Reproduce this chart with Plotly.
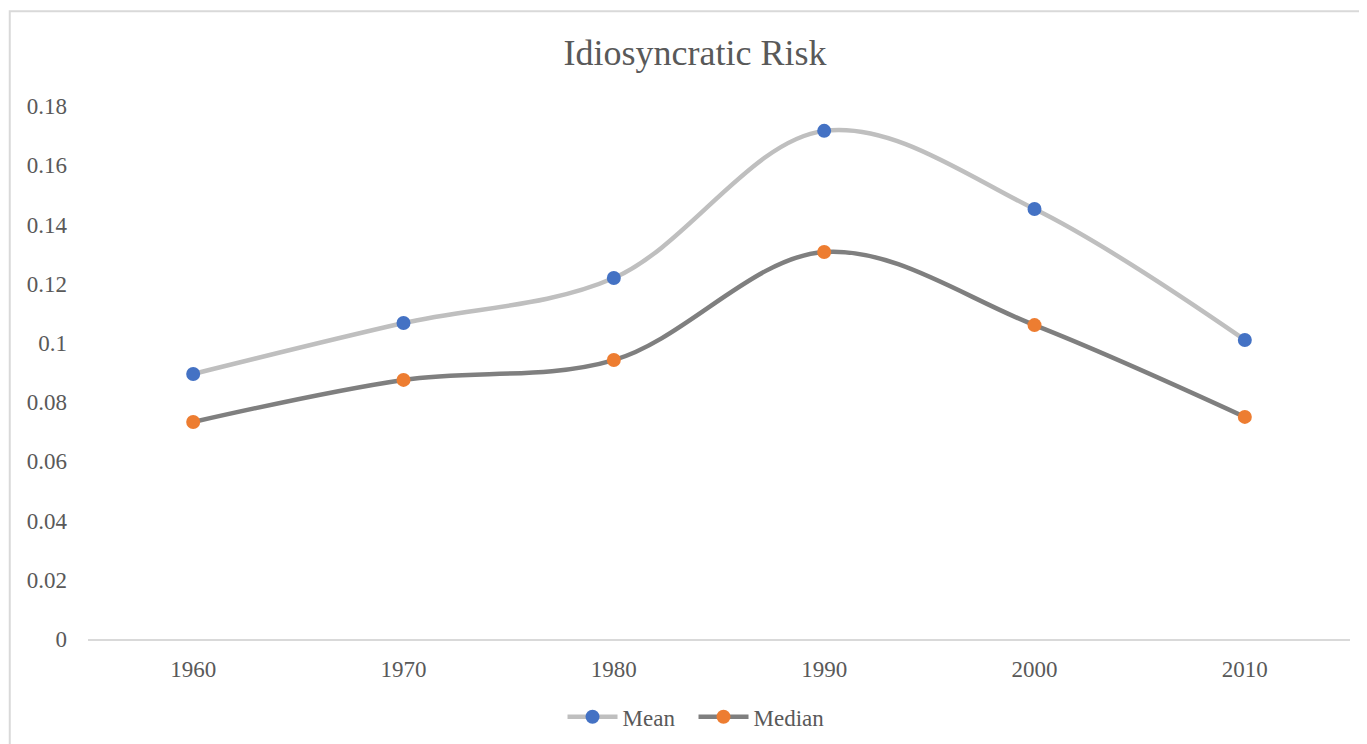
import plotly.graph_objects as go

years = ["1960", "1970", "1980", "1990", "2000", "2010"]
mean_vals = [0.0895, 0.1067, 0.1219, 0.1716, 0.1452, 0.1010]
median_vals = [0.0733, 0.0875, 0.0942, 0.1307, 0.1060, 0.0750]
y_ticks = [0, 0.02, 0.04, 0.06, 0.08, 0.1, 0.12, 0.14, 0.16, 0.18]
y_tick_text = ["0", "0.02", "0.04", "0.06", "0.08", "0.1", "0.12", "0.14", "0.16", "0.18"]

FONT = "Liberation Serif, Times New Roman, serif"
TXT = "#595959"

fig = go.Figure()
fig.add_trace(go.Scatter(
    x=years, y=mean_vals, name="Mean", mode="lines+markers",
    line=dict(color="#BFBFBF", width=4.5, shape="spline", smoothing=1.0),
    marker=dict(color="#4472C4", size=14),
))
fig.add_trace(go.Scatter(
    x=years, y=median_vals, name="Median", mode="lines+markers",
    line=dict(color="#7F7F7F", width=4.5, shape="spline", smoothing=1.0),
    marker=dict(color="#ED7D31", size=14),
))

fig.update_layout(
    width=1359, height=736,
    margin=dict(l=80, r=17, t=98, b=105, autoexpand=False),
    paper_bgcolor="white", plot_bgcolor="white",
    font=dict(family=FONT, size=23, color=TXT),
    title=dict(text="Idiosyncratic Risk", x=0.5055, xanchor="center", y=0.939, yanchor="middle",
               font=dict(family=FONT, size=36, color=TXT)),
    showlegend=True,
    legend=dict(orientation="h", x=0.376, xanchor="left", y=-0.146, yanchor="middle",
                font=dict(family=FONT, size=23, color=TXT), itemwidth=50,
                entrywidth=66, entrywidthmode="pixels"),
    xaxis=dict(type="category", range=[-0.5, 5.5], showgrid=False, showline=True,
               linecolor="#D9D9D9", linewidth=2, ticks="", ticklabelstandoff=8,
               tickfont=dict(family=FONT, size=23, color=TXT), zeroline=False),
    yaxis=dict(range=[0, 0.18], tickvals=y_ticks, ticktext=y_tick_text, showgrid=False,
               showline=False, zeroline=False, ticks="", ticklabelstandoff=20,
               tickfont=dict(family=FONT, size=23, color=TXT)),
    shapes=[dict(type="rect", xref="paper", yref="paper",
                 x0=-0.062, x1=1.05, y0=-0.25, y1=1.178,
                 line=dict(color="#D9D9D9", width=2), fillcolor="rgba(0,0,0,0)", layer="below")],
)

fig.write_html("out.html")
